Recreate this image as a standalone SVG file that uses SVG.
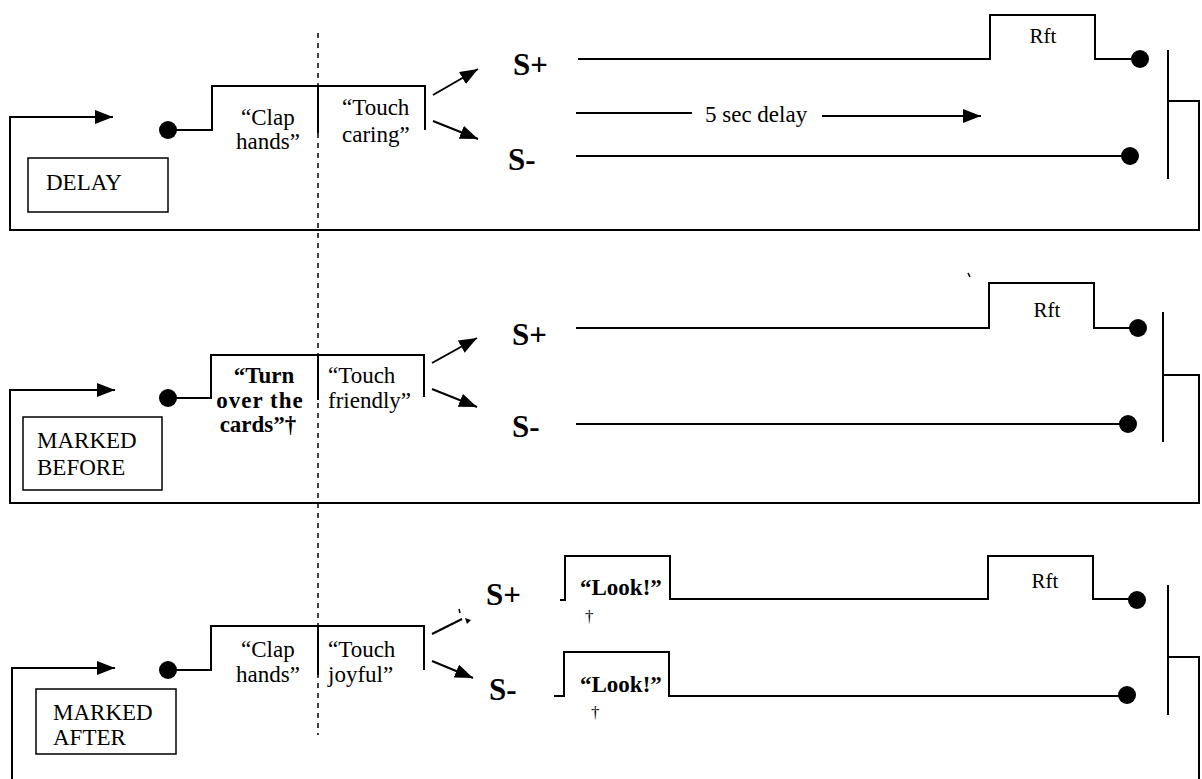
<svg xmlns="http://www.w3.org/2000/svg" width="1202" height="779" viewBox="0 0 1202 779">
  <style>
    .ln { fill: none; stroke: #000; stroke-width: 2; }
    .thin { fill: none; stroke: #000; stroke-width: 1.5; }
    .box { fill: #fff; stroke: #000; stroke-width: 1.5; }
    .dot { fill: #000; }
    .t { font-family: "Liberation Serif", "Times New Roman", serif; font-size: 23px; fill: #000; }
    .b { font-family: "Liberation Serif", "Times New Roman", serif; font-size: 23px; font-weight: bold; fill: #000; }
    .s { font-family: "Liberation Serif", "Times New Roman", serif; font-size: 31px; font-weight: bold; fill: #000; }
    .r { font-family: "Liberation Serif", "Times New Roman", serif; font-size: 21px; fill: #000; text-anchor: middle; }
    .dag { font-family: "Liberation Serif", "Times New Roman", serif; font-size: 17px; fill: #000; }
    .dash { fill: none; stroke: #000; stroke-width: 1.5; stroke-dasharray: 5 5; }
  </style>
  <defs>
    <marker id="ah" markerWidth="18" markerHeight="14" refX="18" refY="7" orient="auto" markerUnits="userSpaceOnUse">
      <path d="M0,0 L18,7 L0,14 z" fill="#000"/>
    </marker>
  </defs>
  <rect width="1202" height="779" fill="#fff"/>

  <!-- DELAY condition -->
  <g id="delay">
    <rect class="box" x="28" y="158" width="140" height="54"/>
    <text class="t" x="46" y="190">DELAY</text>
    <circle class="dot" cx="168" cy="130" r="9"/>
    <path class="ln" d="M168,130 H212 V86 H425 V130"/>
    <path class="ln" d="M318,86 V133"/>
    <text class="t" x="241" y="125">“Clap</text>
    <text class="t" x="236" y="149">hands”</text>
    <text class="t" x="342" y="115">“Touch</text>
    <text class="t" x="342" y="142">caring”</text>
    <text class="s" x="513" y="75">S+</text>
    <text class="s" x="508" y="170">S-</text>
    <text class="r" x="1043" y="43">Rft</text>
    <text class="t" x="705" y="122">5 sec delay</text>
    <circle class="dot" cx="1140" cy="59" r="9"/>
    <circle class="dot" cx="1130" cy="156" r="9"/>
    <path class="ln" d="M1168,50 V179"/>
  </g>

  <!-- MARKED BEFORE condition -->
  <g id="marked-before">
    <rect class="box" x="23" y="417" width="139" height="73"/>
    <text class="t" x="37" y="448">MARKED</text>
    <text class="t" x="37" y="475">BEFORE</text>
    <circle class="dot" cx="168" cy="398" r="9"/>
    <path class="ln" d="M168,398 H211 V355 H424 V397"/>
    <path class="ln" d="M318,355 V400"/>
    <text class="b" x="264" y="383" text-anchor="middle">“Turn</text>
    <text class="b" x="260" y="408" text-anchor="middle" letter-spacing="1">over the</text>
    <text class="b" x="258" y="432" text-anchor="middle">cards”†</text>
    <text class="t" x="328" y="383">“Touch</text>
    <text class="t" x="328" y="408">friendly”</text>
    <text class="s" x="512" y="345">S+</text>
    <text class="s" x="512" y="437">S-</text>
    <text class="r" x="1047" y="317">Rft</text>
    <path class="thin" d="M968,273 L970,277"/>
    <circle class="dot" cx="1138" cy="328" r="9"/>
    <circle class="dot" cx="1128" cy="424" r="9"/>
    <path class="ln" d="M1163,312 V442"/>
  </g>

  <!-- MARKED AFTER condition -->
  <g id="marked-after">
    <rect class="box" x="36" y="689" width="140" height="65"/>
    <text class="t" x="53" y="720">MARKED</text>
    <text class="t" x="53" y="745">AFTER</text>
    <circle class="dot" cx="168" cy="670" r="9"/>
    <path class="ln" d="M168,670 H211 V626 H424 V670"/>
    <path class="ln" d="M318,626 V675"/>
    <text class="t" x="241" y="657">“Clap</text>
    <text class="t" x="236" y="682">hands”</text>
    <text class="t" x="328" y="657">“Touch</text>
    <text class="t" x="328" y="682">joyful”</text>
    <text class="s" x="486" y="605">S+</text>
    <text class="s" x="489" y="700">S-</text>
    <text class="b" x="580" y="595">“Look!”</text>
    <text class="dag" x="585" y="622">†</text>
    <text class="b" x="580" y="692">“Look!”</text>
    <text class="dag" x="591" y="718">†</text>
    <text class="r" x="1045" y="588">Rft</text>
    <circle class="dot" cx="1137" cy="600" r="9"/>
    <circle class="dot" cx="1127" cy="695" r="9"/>
    <path class="ln" d="M1168,585 V715"/>
  </g>

  <!-- connectors -->
  <g id="connectors">
    <!-- DELAY -->
    <path class="ln" d="M1168,101 H1199 V230 H10 V117 H113" marker-end="url(#ah)"/>
    <path class="ln" d="M433,95 L478,69" marker-end="url(#ah)"/>
    <path class="ln" d="M433,121 L478,139" marker-end="url(#ah)"/>
    <path class="ln" d="M578,59 H990 V15 H1095 V59 H1140"/>
    <path class="ln" d="M576,156 H1130"/>
    <path class="ln" d="M576,113 H692"/>
    <path class="ln" d="M822,116 H981" marker-end="url(#ah)"/>
    <!-- MARKED BEFORE -->
    <path class="ln" d="M1163,375 H1199 V503 H10 V390 H115" marker-end="url(#ah)"/>
    <path class="ln" d="M432,363 L477,338" marker-end="url(#ah)"/>
    <path class="ln" d="M432,389 L477,407" marker-end="url(#ah)"/>
    <path class="ln" d="M576,328 H989 V283 H1094 V328 H1138"/>
    <path class="ln" d="M576,424 H1128"/>
    <!-- MARKED AFTER -->
    <path class="ln" d="M1168,657 H1199 V779"/>
    <path class="ln" d="M12,779 V668 H115" marker-end="url(#ah)"/>
    <path class="ln" d="M432,634 L462,619"/>
    <path class="thin" d="M459,609 L460,613"/>
    <path d="M465,618 L471,620 L467,624 z" fill="#000"/>
    <path class="ln" d="M432,661 L473,678" marker-end="url(#ah)"/>
    <path class="ln" d="M560,600 H565 V556 H670 V599 H988 V556 H1093 V599 H1137"/>
    <path class="ln" d="M554,696 H564 V652 H669 V696 H1127"/>
    <!-- trial boundary -->
    <path class="dash" d="M318,33 V735"/>
  </g>
</svg>
